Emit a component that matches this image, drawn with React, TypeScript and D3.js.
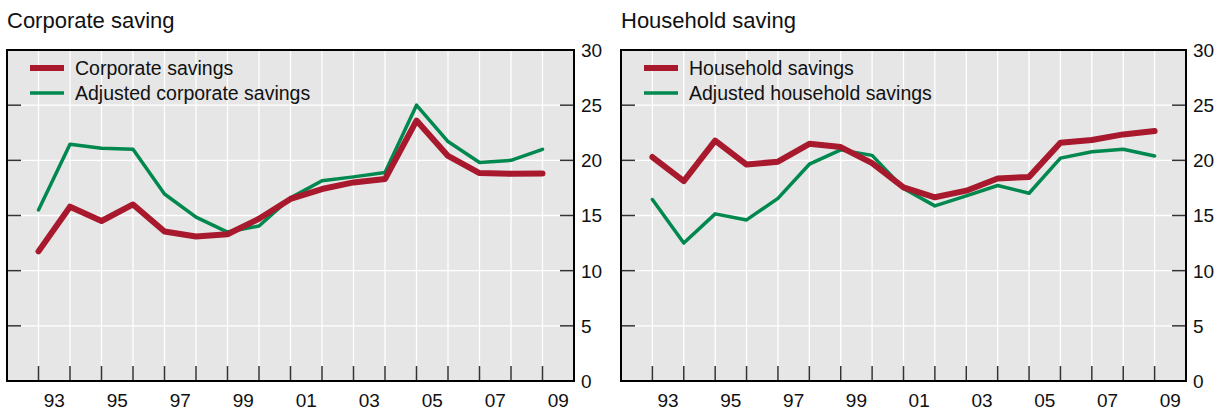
import React from "react";
import * as d3 from "d3";

const years = [1993, 1994, 1995, 1996, 1997, 1998, 1999, 2000, 2001, 2002, 2003, 2004, 2005, 2006, 2007, 2008, 2009];
const corporateSavings = [11.75, 15.8, 14.5, 16.0, 13.55, 13.1, 13.3, 14.7, 16.5, 17.4, 18.0, 18.3, 23.6, 20.4, 18.85, 18.78, 18.8];
const adjustedCorporate = [15.5, 21.45, 21.1, 21.0, 16.95, 14.85, 13.5, 14.05, 16.6, 18.15, 18.5, 18.9, 25.0, 21.7, 19.8, 20.0, 21.0];
const householdSavings = [20.3, 18.12, 21.78, 19.62, 19.88, 21.5, 21.2, 19.75, 17.55, 16.65, 17.25, 18.35, 18.5, 21.6, 21.84, 22.35, 22.65];
const adjustedHousehold = [16.45, 12.5, 15.15, 14.6, 16.55, 19.65, 20.95, 20.45, 17.45, 15.87, 16.78, 17.72, 17.02, 20.2, 20.78, 21.0, 20.4];
const yTicks = [0, 5, 10, 15, 20, 25, 30];
const xLabelYears = [1993, 1995, 1997, 1999, 2001, 2003, 2005, 2007, 2009];
const xLabels = ["93", "95", "97", "99", "01", "03", "05", "07", "09"];

const RED = "#a8192e";
const GREEN = "#00884f";
const FONT = "'Liberation Sans', Arial, Helvetica, sans-serif";

type PanelProps = {
  x0: number;
  x1: number;
  title: string;
  redLabel: string;
  greenLabel: string;
  red: number[];
  green: number[];
};

function Panel({ x0, x1, title, redLabel, greenLabel, red, green }: PanelProps) {
  const top = 50;
  const bottom = 381;
  const x = d3.scaleLinear().domain([1992, 2010]).range([x0, x1]);
  const y = d3.scaleLinear().domain([0, 30]).range([bottom, top]);
  const line = d3
    .line<number>()
    .x((_, i) => x(years[i]))
    .y((d) => y(d));
  const gridY = yTicks.filter((t) => t > 0 && t < 30);
  return (
    <g>
      <text x={x0} y={28} fontSize={22} fontFamily={FONT} fill="#111">
        {title}
      </text>
      <rect x={x0} y={top} width={x1 - x0} height={bottom - top} fill="#e6e6e6" />
      {years.map((yr) => (
        <line key={"vg" + yr} x1={x(yr)} x2={x(yr)} y1={top} y2={bottom} stroke="#fff" strokeWidth={1.3} />
      ))}
      {gridY.map((t) => (
        <line key={"hg" + t} x1={x0} x2={x1} y1={y(t)} y2={y(t)} stroke="#fff" strokeWidth={1.3} />
      ))}
      {years.map((yr) => (
        <line key={"xt" + yr} x1={x(yr)} x2={x(yr)} y1={bottom} y2={bottom - 15} stroke="#333" strokeWidth={1.5} />
      ))}
      {gridY.map((t) => (
        <g key={"yt" + t}>
          <line x1={x0} x2={x0 + 14} y1={y(t)} y2={y(t)} stroke="#333" strokeWidth={1.5} />
          <line x1={x1 - 14} x2={x1} y1={y(t)} y2={y(t)} stroke="#333" strokeWidth={1.5} />
        </g>
      ))}
      <path d={line(green) || ""} fill="none" stroke={GREEN} strokeWidth={3.5} strokeLinejoin="round" strokeLinecap="round" />
      <path d={line(red) || ""} fill="none" stroke={RED} strokeWidth={6} strokeLinejoin="round" strokeLinecap="round" />
      <rect x={x0} y={top} width={x1 - x0} height={bottom - top} fill="none" stroke="#000" strokeWidth={2} />
      {yTicks.map((t) => (
        <text key={"yl" + t} x={x1 + 7} y={y(t)} dy="0.36em" fontSize={19} fontFamily={FONT} fill="#111">
          {t}
        </text>
      ))}
      {xLabelYears.map((yr, i) => (
        <text key={"xl" + yr} x={x(yr + 0.5)} y={407} textAnchor="middle" fontSize={19} fontFamily={FONT} fill="#111">
          {xLabels[i]}
        </text>
      ))}
      <line x1={x0 + 23} x2={x0 + 57} y1={68} y2={68} stroke={RED} strokeWidth={6} />
      <text x={x0 + 68} y={68} dy="0.36em" fontSize={19.5} fontFamily={FONT} fill="#111">
        {redLabel}
      </text>
      <line x1={x0 + 23} x2={x0 + 57} y1={93} y2={93} stroke={GREEN} strokeWidth={3.5} />
      <text x={x0 + 68} y={93} dy="0.36em" fontSize={19.5} fontFamily={FONT} fill="#111">
        {greenLabel}
      </text>
    </g>
  );
}

export default function App() {
  return (
    <svg
      width={1219}
      height={410}
      style={{ position: "absolute", left: 0, top: 0, background: "#fff" }}
    >
      <Panel
        x0={7}
        x1={574}
        title="Corporate saving"
        redLabel="Corporate savings"
        greenLabel="Adjusted corporate savings"
        red={corporateSavings}
        green={adjustedCorporate}
      />
      <Panel
        x0={621}
        x1={1186}
        title="Household saving"
        redLabel="Household savings"
        greenLabel="Adjusted household savings"
        red={householdSavings}
        green={adjustedHousehold}
      />
    </svg>
  );
}
